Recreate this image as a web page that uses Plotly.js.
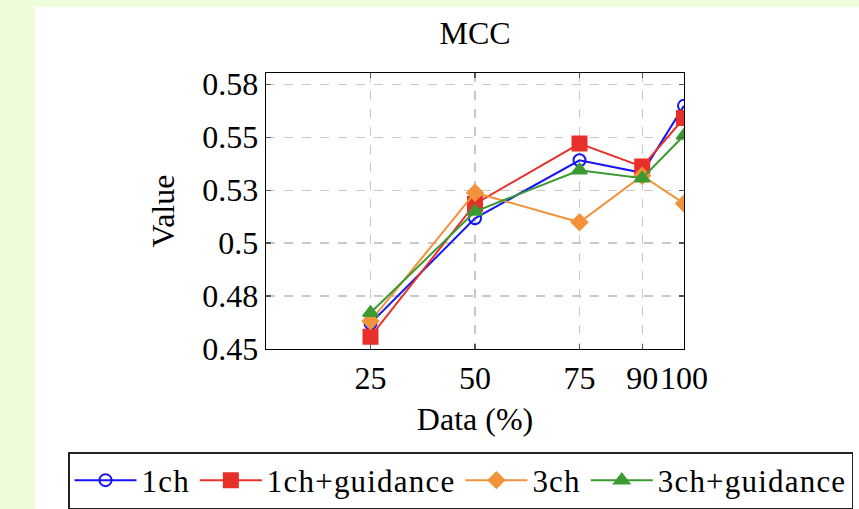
<!DOCTYPE html>
<html>
<head>
<meta charset="utf-8">
<script src="https://cdn.plot.ly/plotly-3.0.1.min.js"></script>
<style>
html, body { margin: 0; padding: 0; width: 859px; height: 509px; overflow: hidden; background: #eefcd9; }
#wrap { position: absolute; left: 35px; top: 7px; width: 1800px; height: 502px; background: #ffffff; }
#chart { width: 1800px; height: 502px; }
.legendtext { letter-spacing: 1.2px; }
</style>
</head>
<body>
<div id="wrap"><div id="chart"></div></div>
<script>
const dataPct = [25, 50, 75, 90, 100];
const seriesNames = ['1ch', '1ch+guidance', '3ch', '3ch+guidance'];
const oneCh = [0.4621, 0.5117, 0.5391, 0.5332, 0.5648];
const oneChGuidance = [0.4558, 0.5185, 0.5470, 0.5361, 0.5590];
const threeCh = [0.4632, 0.5238, 0.5098, 0.5318, 0.5187];
const threeChGuidance = [0.4671, 0.5149, 0.5344, 0.5306, 0.5508];
const yTickVals = [0.45, 0.475, 0.5, 0.525, 0.55, 0.575];
const yTickText = ['0.45', '0.48', '0.5', '0.53', '0.55', '0.58'];
const xTickVals = [25, 50, 75, 90, 100];
const xTickText = ['25', '50', '75', '90', '100'];

const FONT = 'Liberation Serif, Times New Roman, serif';
const styles = [
  {color: '#1414f5', symbol: 'circle-open', size: 12},
  {color: '#e8302a', symbol: 'square', size: 14},
  {color: '#f2923a', symbol: 'diamond', size: 12},
  {color: '#3c9a32', symbol: 'triangle-up', size: 13}
];
const values = [oneCh, oneChGuidance, threeCh, threeChGuidance];

const traces = values.map((v, i) => ({
  x: dataPct, y: v, name: seriesNames[i], type: 'scatter', mode: 'lines+markers',
  line: {color: styles[i].color, width: 2},
  marker: {color: styles[i].color, symbol: styles[i].symbol, size: styles[i].size,
           line: {color: styles[i].color, width: 2}}
}));

const axisCommon = {
  showline: true, linecolor: '#000', linewidth: 1.3, mirror: 'ticks',
  ticks: 'inside', ticklen: 5, tickcolor: '#555', tickwidth: 1.2,
  showgrid: true, gridcolor: '#c8c8c8', gridwidth: 1.2, griddash: 'dash',
  zeroline: false, tickangle: 0, tickfont: {family: FONT, size: 32, color: '#000'}
};

const W = 1800, H = 502, L = 231, PW = 418;
const layout = {
  width: W, height: H,
  margin: {l: L, r: W - L - PW, t: 66, b: 160, autoexpand: false},
  paper_bgcolor: '#ffffff', plot_bgcolor: '#ffffff',
  font: {family: FONT, color: '#000'},
  title: {text: 'MCC', font: {family: FONT, size: 32, color: '#000'},
          x: 0.5, xref: 'paper', y: 1 - 26/H, yref: 'container', yanchor: 'middle'},
  xaxis: Object.assign({}, axisCommon, {
    range: [0, 100], tickmode: 'array', tickvals: xTickVals, ticktext: xTickText,
    title: {text: 'Data (%)', font: {family: FONT, size: 32, color: '#000'}, standoff: 13}
  }),
  yaxis: Object.assign({}, axisCommon, {
    range: [0.45, 0.5803], tickmode: 'array', tickvals: yTickVals, ticktext: yTickText,
    title: {text: 'Value', font: {family: FONT, size: 32, color: '#000'}, standoff: 18}
  }),
  showlegend: true,
  legend: {
    orientation: 'h', xref: 'paper', yref: 'container',
    x: (33 - L) / PW, xanchor: 'left', y: 1 - 445/H, yanchor: 'top',
    bordercolor: '#222', borderwidth: 1.5, bgcolor: '#fff',
    font: {family: FONT, size: 31, color: '#000'},
    itemwidth: 62, tracegroupgap: 0
  }
};

Plotly.newPlot('chart', traces, layout, {displayModeBar: false, staticPlot: true});
</script>
</body>
</html>
